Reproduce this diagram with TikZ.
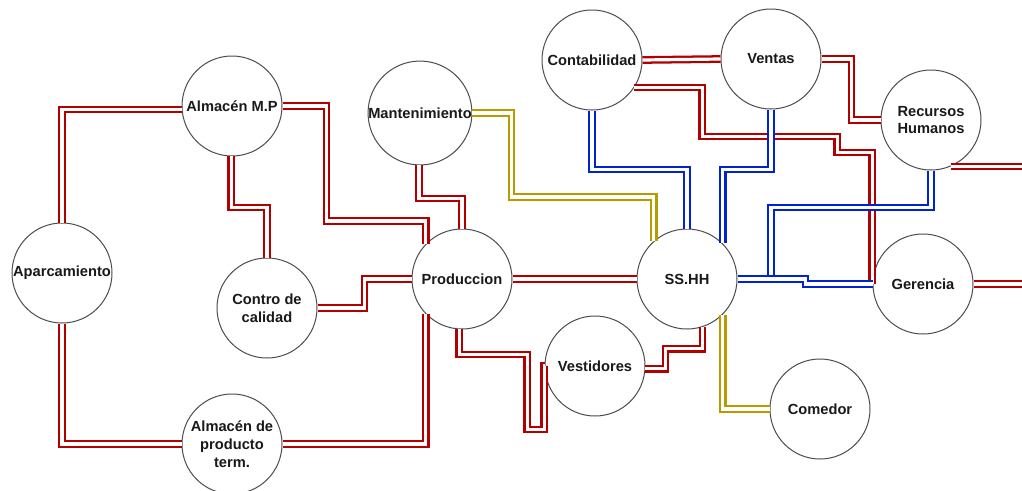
\documentclass[tikz,border=0pt]{standalone}
\usepackage{fontspec}
\setmainfont{Liberation Sans}
\begin{document}
\begin{tikzpicture}[x=0.75pt,y=-0.75pt,
  stn/.style={circle,draw=black!70,line width=0.75pt,fill=white,minimum size=75pt,inner sep=0pt,
    font=\fontsize{11}{13.3}\selectfont\bfseries,align=center,text=black!90},
  pipe/.style={line width=1.7pt,double=white,double distance=2.4pt,line join=miter},
  rp/.style={pipe,draw=pred},
  bp/.style={pipe,draw=pblue},
  gp/.style={pipe,draw=pgold}]
\definecolor{pred}{RGB}{178,0,0}
\definecolor{pblue}{RGB}{0,35,205}
\definecolor{pgold}{RGB}{184,155,0}
\useasboundingbox (0,0) rectangle (1022,490);
\coordinate (rout) at (1022,0);
% nodes
\node[stn] (apar) at (62,273) {Aparcamiento};
\node[stn] (almmp) at (232,106) {Almacén M.P};
\node[stn] (contro) at (267,308) {Contro de\\calidad};
\node[stn] (almpt) at (232,444) {Almacén de\\producto\\term.};
\node[stn] (mant) at (420,113) {Mantenimiento};
\node[stn] (prod) at (462,279) {Produccion};
\node[stn] (cont) at (592,60) {Contabilidad};
\node[stn] (ventas) at (771,59) {Ventas};
\node[stn] (rrhh) at (931,120) {Recursos\\Humanos};
\node[stn] (ss) at (687,279) {SS.HH};
\node[stn] (ger) at (923,284) {Gerencia};
\node[stn] (vest) at (595,366) {Vestidores};
\node[stn] (com) at (820,409) {Comedor};
% red pipes
\draw[rp] (apar.north) |- (almmp.184);
\draw[rp] (almmp.east) -| ++(44,115) -| (prod.136);
\draw[rp] (almmp.-91) -- ++(0,51) -| (contro.north);
\draw[rp] (apar.south) |- (almpt.west);
\draw[rp] (almpt.east) -| (prod.-136);
\draw[rp] (contro.east) -- ++(47,0) |- (prod.west);
\draw[rp] (mant.-91) -- ++(0,33) -| (prod.north);
\draw[rp] (prod.east) -- (ss.west);
\draw[rp] (prod.-93) -- ++(0,25) -- ++(68,0) -- ++(0,75) -- ++(17,0) |- (vest.west);
\draw[rp] (vest.-3) -- ++(20,0) -- ++(0,-20) -| (ss.-72);
\draw[rp] (cont.east) -- (ventas.west);
\draw[rp] (cont.-33) -- ++(68,0) -- ++(0,49) -- ++(135,0) -- ++(0,16) -- ++(35,0) |- (ger.west);
\draw[rp] (ventas.east) -- ++(30,0) |- (rrhh.west);
\draw[rp] (rrhh.-67) -- (rrhh.-67 -| rout);
\draw[rp] (ger.east) -- (ger.east -| rout);
% gold pipes
\draw[gp] (mant.east) -- ++(39,0) -- ++(0,84) -| (ss.131);
\draw[gp] (ss.-45.6) |- (com.west);
% blue pipes
\draw[bp] (cont.south) -- ++(0,59) -| (ss.north);
\draw[bp] (ventas.south) -- ++(0,60) -| (ss.45.6);
\draw[bp] (rrhh.south) -- ++(0,37) -- ++(-160,0) |- (ss.east);
\draw[bp] (ss.east) -- ++(68,0) |- (ger.west);
\end{tikzpicture}
\end{document}
